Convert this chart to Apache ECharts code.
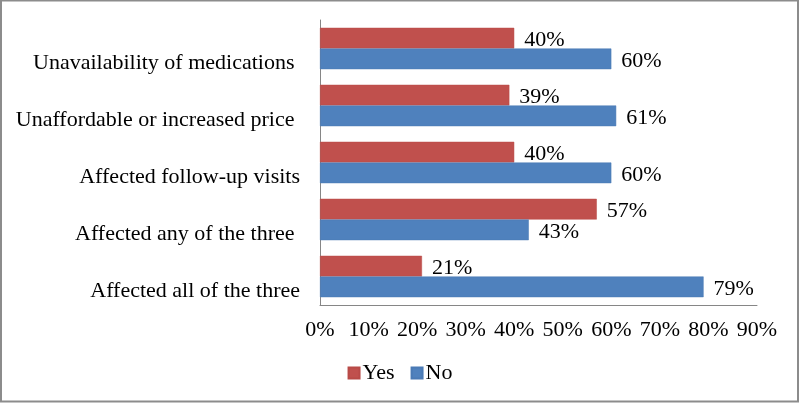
<!DOCTYPE html>
<html>
<head>
<meta charset="utf-8">
<script src="https://cdn.jsdelivr.net/npm/echarts@6/dist/echarts.min.js"></script>
<style>
html,body{margin:0;padding:0;background:#fff;}
#c{width:800px;height:403px;}
</style>
</head>
<body>
<div id="c"></div>
<script>
const categories = ["Unavailability of medications ", "Unaffordable or increased price ", "Affected follow-up visits", "Affected any of the three ", "Affected all of the three"];
const yesValues = [40, 39, 40, 57, 21];
const noValues = [60, 61, 60, 43, 79];
const xTicks = [0, 10, 20, 30, 40, 50, 60, 70, 80, 90];

const FONT = "'Liberation Serif', 'Times New Roman', serif";
const chart = echarts.init(document.getElementById('c'), null, {renderer: 'canvas'});
const labelStyle = {show: true, position: 'right', distance: 10, offset: [0, 2], formatter: '{c}%', color: '#000', fontFamily: FONT, fontSize: 22};
chart.setOption({
  animation: false,
  backgroundColor: '#fff',
  graphic: [{type: 'rect', shape: {x: 1, y: 0.5, width: 797, height: 401}, style: {fill: 'none', stroke: '#8c8c8c', lineWidth: 2}, silent: true}],
  grid: {left: 320, right: 43, top: 20, bottom: 98},
  legend: {
    data: ['Yes', 'No'], bottom: 14, left: 'center', icon: 'rect', itemWidth: 11, itemHeight: 11, itemGap: 16,
    textStyle: {fontFamily: FONT, fontSize: 22, color: '#000', padding: [0, 0, 0, -2]}
  },
  xAxis: {
    type: 'value', min: xTicks[0], max: xTicks[xTicks.length - 1], interval: 10,
    axisLine: {show: true, lineStyle: {color: '#868686', width: 1}},
    axisTick: {show: false}, splitLine: {show: false},
    axisLabel: {formatter: '{value}%', color: '#000', fontFamily: FONT, fontSize: 22, margin: 14}
  },
  yAxis: {
    type: 'category', data: categories, inverse: true,
    axisLine: {show: true, lineStyle: {color: '#868686', width: 1}},
    axisTick: {show: false},
    axisLabel: {color: '#000', fontFamily: FONT, fontSize: 22, margin: 20, verticalAlign: 'top', lineHeight: 30}
  },
  series: [
    {name: 'Yes', type: 'bar', data: yesValues, barWidth: 20.7, barGap: '0%', itemStyle: {color: '#C0504D', borderColor: '#B84A47', borderWidth: 0.5}, label: labelStyle},
    {name: 'No', type: 'bar', data: noValues, barWidth: 20.7, barGap: '0%', itemStyle: {color: '#4F81BD', borderColor: '#4A7AB5', borderWidth: 0.5}, label: labelStyle}
  ]
});
</script>
</body>
</html>
